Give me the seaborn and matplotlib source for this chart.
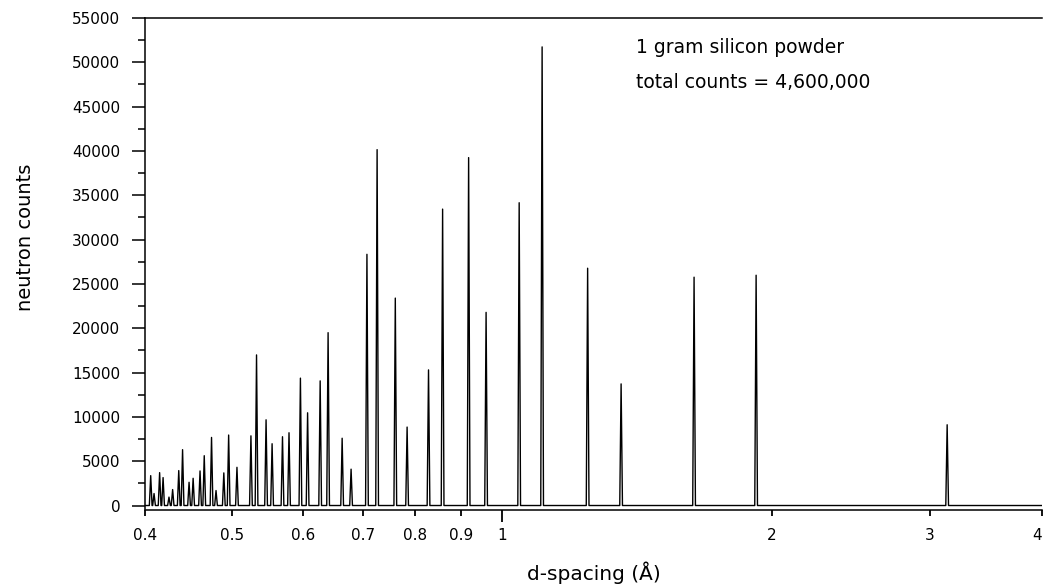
import numpy as np
import pandas as pd
import matplotlib
matplotlib.use("Agg")
import matplotlib.pyplot as plt
import seaborn as sns
from matplotlib.ticker import FixedLocator, FixedFormatter, MultipleLocator, NullFormatter

# ---- data ----
d_spacing = [0.4059, 0.4094, 0.4153, 0.4190, 0.4254, 0.4294, 0.4362, 0.4405,
             0.4479, 0.4526, 0.4607, 0.4657, 0.4745, 0.4800, 0.4897, 0.4958,
             0.5065, 0.5250, 0.5326, 0.5458, 0.5543, 0.5693, 0.5789, 0.5961,
             0.6072, 0.6271, 0.6400, 0.6635, 0.6789, 0.7071, 0.7258, 0.7605,
             0.7839, 0.8282, 0.8587, 0.9180, 0.9601, 1.0452, 1.1086, 1.2460,
             1.3578, 1.6375, 1.9202, 3.1356]
peak_counts = [3370, 1350, 3710, 3150, 950, 1800, 3940, 6300,
               2620, 3070, 3900, 5620, 7680, 1690, 3680, 7950,
               4310, 7860, 16990, 9670, 6970, 7760, 8210, 14370,
               10460, 14060, 19500, 7590, 4100, 28340, 40150, 23400,
               8850, 15300, 33440, 39250, 21790, 34160, 51740, 26770,
               13720, 25760, 25980, 9110]

xtick_major = [1]
xtick_major_labels = ["1"]
xtick_minor = [0.4, 0.5, 0.6, 0.7, 0.8, 0.9, 2, 3, 4]
xtick_minor_labels = ["0.4", "0.5", "0.6", "0.7", "0.8", "0.9", "2", "3", "4"]
ytick_values = list(range(0, 55001, 5000))

x_range = (0.4, 4.0)
rel_half_width = 0.0035  # peak base half-width relative to d

# polyline through each peak (baseline - apex - baseline)
xs = [x_range[0]]
ys = [0]
for d, h in sorted(zip(d_spacing, peak_counts)):
    xs += [d * (1 - rel_half_width), d, d * (1 + rel_half_width)]
    ys += [0, h, 0]
xs.append(x_range[1])
ys.append(0)
df = pd.DataFrame({"d": xs, "counts": ys})

# ---- style ----
sns.set_theme(style="ticks")
plt.rcParams["font.family"] = ["DejaVu Sans"]
plt.rcParams["text.color"] = "black"
plt.rcParams["axes.labelcolor"] = "black"
plt.rcParams["xtick.color"] = "black"
plt.rcParams["ytick.color"] = "black"

W, H = 1044, 587
fig = plt.figure(figsize=(W / 100, H / 100), dpi=100)
left_px, right_px, top_px, bottom_px = 145, 1042, 18, 509.5
ax = fig.add_axes([left_px / W, 1 - bottom_px / H,
                   (right_px - left_px) / W, (bottom_px - top_px) / H])

sns.lineplot(data=df, x="d", y="counts", estimator=None, sort=False,
             color="black", linewidth=1.0, ax=ax)

ax.set_xscale("log")
ax.set_xlim(*x_range)
ax.set_ylim(-450, 55000)

# x ticks
ax.xaxis.set_major_locator(FixedLocator(xtick_major))
ax.xaxis.set_major_formatter(FixedFormatter(xtick_major_labels))
ax.xaxis.set_minor_locator(FixedLocator(xtick_minor))
ax.xaxis.set_minor_formatter(FixedFormatter(xtick_minor_labels))
ax.tick_params(axis="x", which="major", direction="out", length=8.6, width=1.3,
               pad=4.5, labelsize=11)
ax.tick_params(axis="x", which="minor", direction="out", length=4.3, width=1.3,
               pad=8.8, labelsize=11)

# y ticks
ax.yaxis.set_major_locator(FixedLocator(ytick_values))
ax.yaxis.set_minor_locator(MultipleLocator(2500))
ax.yaxis.set_minor_formatter(NullFormatter())
ax.tick_params(axis="y", which="major", direction="out", length=9.4, width=1.1,
               pad=8.5, labelsize=11)
ax.tick_params(axis="y", which="minor", direction="out", length=5, width=1.1)

for side in ["left", "bottom", "top"]:
    ax.spines[side].set_linewidth(1.1)
    ax.spines[side].set_color("black")
ax.spines["right"].set_visible(False)

ax.set_xlabel("d-spacing (Å)", fontsize=14.5, va="center")
ax.xaxis.set_label_coords(0.5, (bottom_px - 573) / (bottom_px - top_px))
ax.set_ylabel("neutron counts", fontsize=14, va="center")
ax.yaxis.set_label_coords((26 - left_px) / (right_px - left_px),
                          (bottom_px - 237) / (bottom_px - top_px))

ax.text((636 - left_px) / (right_px - left_px), (bottom_px - 53) / (bottom_px - top_px),
        "1 gram silicon powder", transform=ax.transAxes, fontsize=13.5,
        ha="left", va="baseline")
ax.text((636 - left_px) / (right_px - left_px), (bottom_px - 88) / (bottom_px - top_px),
        "total counts = 4,600,000", transform=ax.transAxes, fontsize=13.5,
        ha="left", va="baseline")

# keep the last x tick label ("4") inside the figure
fig.canvas.draw()
last_tick = ax.xaxis.get_minor_ticks()[-1]
last_tick.label1.set_horizontalalignment("right")

fig.savefig("out.png", dpi=100, facecolor="white")
